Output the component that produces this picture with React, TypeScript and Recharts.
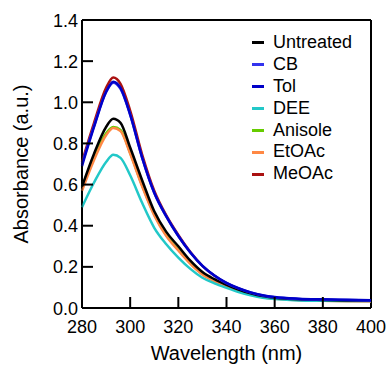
import React from "react";
import { ComposedChart, Line, Scatter, XAxis, YAxis, ReferenceLine } from "recharts";

const wavelengths = [280, 285, 290, 293, 296, 300, 305, 310, 315, 320, 325, 330, 335, 340, 345, 350, 355, 360, 370, 380, 390, 400];
const untreated = [0.59, 0.75, 0.88, 0.92, 0.90, 0.78, 0.62, 0.47, 0.37, 0.30, 0.23, 0.175, 0.14, 0.113, 0.09, 0.072, 0.058, 0.05, 0.042, 0.039, 0.037, 0.036];
const cb = [0.70, 0.885, 1.05, 1.095, 1.065, 0.94, 0.73, 0.56, 0.445, 0.35, 0.27, 0.205, 0.157, 0.121, 0.095, 0.075, 0.061, 0.052, 0.044, 0.041, 0.039, 0.037];
const tol = [0.69, 0.88, 1.05, 1.10, 1.07, 0.94, 0.73, 0.56, 0.445, 0.35, 0.27, 0.205, 0.158, 0.122, 0.096, 0.076, 0.062, 0.053, 0.045, 0.042, 0.040, 0.038];
const dee = [0.49, 0.61, 0.71, 0.745, 0.73, 0.645, 0.51, 0.39, 0.31, 0.245, 0.19, 0.147, 0.12, 0.098, 0.078, 0.062, 0.05, 0.044, 0.037, 0.035, 0.034, 0.034];
const anisole = [0.59, 0.73, 0.85, 0.88, 0.865, 0.755, 0.595, 0.455, 0.355, 0.283, 0.218, 0.166, 0.132, 0.107, 0.084, 0.067, 0.055, 0.048, 0.041, 0.038, 0.036, 0.035];
const etoac = [0.57, 0.72, 0.84, 0.875, 0.86, 0.75, 0.59, 0.45, 0.35, 0.28, 0.215, 0.163, 0.13, 0.105, 0.082, 0.065, 0.052, 0.045, 0.038, 0.035, 0.033, 0.032];
const meoac = [0.71, 0.90, 1.07, 1.12, 1.09, 0.96, 0.745, 0.57, 0.45, 0.355, 0.272, 0.205, 0.157, 0.12, 0.094, 0.073, 0.059, 0.05, 0.042, 0.039, 0.037, 0.035];

const xTicks = [280, 300, 320, 340, 360, 380, 400];
const yTicks = [0, 0.2, 0.4, 0.6, 0.8, 1.0, 1.2, 1.4];
const xInnerTicks = [300, 320, 340, 360, 380];
const yInnerTicks = [0.2, 0.4, 0.6, 0.8, 1.0, 1.2];

const series = [
  { key: "Untreated", values: untreated, color: "#000000" },
  { key: "CB", values: cb, color: "#3333ee" },
  { key: "Tol", values: tol, color: "#0000c8" },
  { key: "DEE", values: dee, color: "#22c8c8" },
  { key: "Anisole", values: anisole, color: "#66cc00" },
  { key: "EtOAc", values: etoac, color: "#ff8844" },
  { key: "MeOAc", values: meoac, color: "#aa1111" },
];

const drawOrder = ["MeOAc", "Anisole", "EtOAc", "DEE", "Untreated", "CB", "Tol"];

const data = wavelengths.map((w, i) => {
  const row: Record<string, number> = { w };
  series.forEach((s) => {
    row[s.key] = s.values[i];
  });
  return row;
});

const xTickPoints = xInnerTicks.map((t) => ({ w: t, tv: 0 }));
const yTickPoints = yInnerTicks.map((t) => ({ w: 280, tv: t }));

const font = "Liberation Sans, Arial, Helvetica, sans-serif";
const TICK_LEN = 11;

const XTickMark = (props: any) => {
  const { cx, cy } = props;
  if (cx == null || cy == null) return <g />;
  return <path d={`M${cx},${cy}L${cx},${cy - TICK_LEN}`} stroke="#000" strokeWidth={2} fill="none" />;
};

const YTickMark = (props: any) => {
  const { cx, cy } = props;
  if (cx == null || cy == null) return <g />;
  return <path d={`M${cx},${cy}L${cx + TICK_LEN},${cy}`} stroke="#000" strokeWidth={2} fill="none" />;
};

const XTick = (props: any) => {
  const { x, y, payload } = props;
  return (
    <text x={x} y={y + 25} textAnchor="middle" fill="#000" fontSize={18} fontFamily={font}>
      {payload.value}
    </text>
  );
};

const YTick = (props: any) => {
  const { x, y, payload } = props;
  return (
    <text x={x - 4} y={y + 6.5} textAnchor="end" fill="#000" fontSize={18} fontFamily={font}>
      {Number(payload.value).toFixed(1)}
    </text>
  );
};

export default function App() {
  return (
    <div style={{ position: "absolute", left: 0, top: 0, width: 387, height: 368, background: "#fff" }}>
      <ComposedChart
        width={387}
        height={368}
        data={data}
        margin={{ top: 20, right: 16, bottom: 30, left: 0 }}
      >
        <XAxis
          dataKey="w"
          type="number"
          domain={[280, 400]}
          ticks={xTicks}
          stroke="#000"
          tickLine={false}
          tickSize={0}
          tickMargin={0}
          height={30}
          tick={<XTick />}
          label={{ value: "Wavelength (nm)", position: "insideBottom", offset: -22, fill: "#000", fontSize: 20, fontFamily: font }}
        />
        <YAxis
          type="number"
          domain={[0, 1.4]}
          ticks={yTicks}
          width={82}
          stroke="#000"
          tickLine={false}
          tickSize={0}
          tickMargin={0}
          tick={<YTick />}
          label={{ value: "Absorbance (a.u.)", angle: -90, position: "center", dx: -20, fill: "#000", fontSize: 20, fontFamily: font }}
        />
        <ReferenceLine y={0} stroke="#000" strokeWidth={2} />
        <ReferenceLine x={280} stroke="#000" strokeWidth={2} />
        <ReferenceLine y={1.4} stroke="#000" strokeWidth={2} />
        <ReferenceLine x={400} stroke="#000" strokeWidth={2} />
        {drawOrder.map((k) => {
          const s = series.find((x) => x.key === k)!;
          return (
            <Line
              key={k}
              dataKey={k}
              type="monotone"
              stroke={s.color}
              strokeWidth={2.5}
              dot={false}
              isAnimationActive={false}
            />
          );
        })}
        <Scatter data={xTickPoints} dataKey="tv" shape={<XTickMark />} isAnimationActive={false} />
        <Scatter data={yTickPoints} dataKey="tv" shape={<YTickMark />} isAnimationActive={false} />
      </ComposedChart>
      <div style={{ position: "absolute", left: 252, top: 32, fontFamily: font, fontSize: 18, color: "#000", lineHeight: "21.9px" }}>
        {series.map((s) => (
          <div key={s.key} style={{ display: "flex", alignItems: "center", height: 21.9 }}>
            <div style={{ width: 12, height: 3, background: s.color, marginRight: 9 }} />
            <span>{s.key}</span>
          </div>
        ))}
      </div>
    </div>
  );
}
